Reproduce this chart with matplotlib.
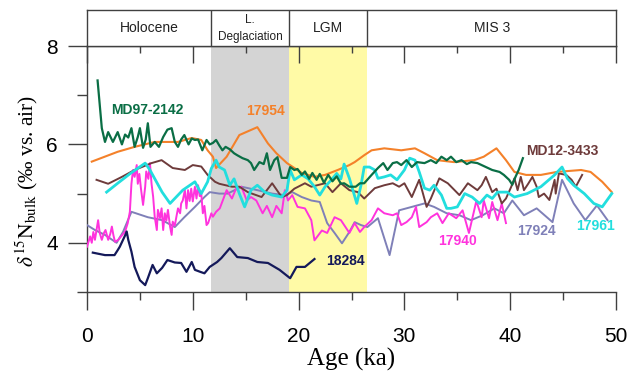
import matplotlib
matplotlib.use("Agg")
import matplotlib.pyplot as plt

# ---------------- data ----------------
md97_2142 = [(1.0,7.3),(1.4,6.33),(1.7,6.05),(2.0,6.25),(2.45,6.05),(2.9,6.25),(3.3,6.0),(3.6,6.2),(3.9,6.14),(4.2,6.33),
             (4.5,5.95),(4.8,6.15),(5.0,6.33),(5.3,5.93),(5.55,6.1),(5.75,6.43),(6.0,5.95),(6.4,6.05),(6.8,5.95),(7.2,6.15),
             (7.6,6.3),(8.0,6.33),(8.3,6.05),(8.6,5.95),(8.9,6.1),(9.2,6.19),(9.6,6.0),(9.9,6.12),(10.2,6.09),(10.5,6.1),
             (10.9,5.88),(11.3,6.09),(11.6,6.0),(11.9,6.03),(12.2,6.09),(12.5,5.98),(12.8,5.88),(13.1,5.95),(13.5,5.9),(13.9,5.82),
             (14.2,5.78),(14.7,5.72),(15.2,5.68),(15.5,5.62),(15.8,5.48),(16.3,5.64),(16.7,5.6),(17.0,5.82),(17.3,5.48),(17.7,5.68),
             (18.0,5.74),(18.4,5.32),(18.9,5.32),(19.2,5.54),(19.6,5.48),(19.9,5.5),(20.3,5.38),(20.6,5.45),(21.0,5.3),(21.3,5.42),
             (21.7,5.28),(22.0,5.4),(22.4,5.22),(22.8,5.38),(23.2,5.25),(23.6,5.35),(24.0,5.2),(24.3,5.21),(24.8,5.14),(25.4,5.14),
             (25.8,5.21),(26.2,5.21),(26.9,5.38),(27.5,5.52),(28.0,5.62),(28.4,5.48),(28.9,5.62),(29.3,5.64),(29.7,5.58),(30.2,5.68),
             (30.7,5.54),(31.2,5.64),(31.9,5.62),(32.5,5.68),(33.0,5.62),(33.5,5.75),(34.0,5.68),(34.4,5.75),(34.9,5.64),(35.4,5.68),
             (35.9,5.6),(36.3,5.64),(36.9,5.62),(37.3,5.58),(37.7,5.54),(38.3,5.48),(39.0,5.44),(39.4,5.38),(39.9,5.28),(40.2,5.18),
             (40.5,5.34),(40.8,5.48),(41.2,5.72)]

s17954 = [(0.45,5.65),(2.9,5.85),(4.5,5.95),(6.4,6.05),(8.6,6.05),(9.9,6.13),(10.8,6.09),(11.4,5.88),(11.9,5.75),(12.2,5.52),
          (13.2,5.75),(14.4,6.19),(16.1,6.35),(17.1,6.02),(17.9,5.82),(18.9,5.62),(20.3,5.42),(21.5,5.34),(22.5,5.38),(23.7,5.48),
          (24.8,5.58),(25.3,5.64),(26.2,5.78),(26.9,5.88),(28.1,5.92),(29.7,5.88),(31.0,5.92),(31.9,5.82),(33.1,5.68),(34.7,5.64),
          (36.6,5.68),(37.5,5.75),(38.7,5.92),(39.6,5.68),(40.4,5.44),(41.5,5.38),(42.9,5.38),(44.4,5.44),(46.7,5.48),(47.6,5.44),
          (48.7,5.24),(49.6,5.03)]

md12_3433 = [(0.9,5.28),(2.0,5.2),(3.3,5.34),(4.5,5.48),(6.1,5.62),(7.05,5.68),(8.1,5.52),(9.25,5.48),(10.0,5.58),(10.8,5.55),
             (11.4,5.38),(12.1,5.24),(12.5,5.2),(13.7,5.14),(14.4,5.14),(15.2,5.03),(16.5,4.93),(17.5,5.21),(18.4,4.93),(18.9,4.97),
             (19.6,5.1),(20.6,5.21),(21.2,5.14),(22.5,5.21),(23.2,5.03),(24.0,5.21),(24.8,5.07),(25.6,5.03),(26.2,4.9),(27.2,5.11),
             (28.1,5.17),(28.9,5.21),(29.5,5.14),(30.0,5.21),(30.7,4.93),(31.4,5.28),(32.1,4.73),(32.5,4.9),(33.3,5.31),(34.1,5.21),
             (35.2,4.97),(36.0,5.21),(36.9,5.07),(37.3,5.17),(37.7,5.34),(38.3,5.03),(38.7,5.1),(39.2,4.8),(39.6,4.9),(40.1,5.14),
             (40.4,5.31),(40.7,5.07),(41.0,5.34),(41.3,5.07),(41.7,5.2),(42.1,5.34),(42.5,5.14),(42.7,4.93),(43.2,5.0),(43.7,4.87),
             (44.2,5.28),(44.3,5.0),(44.6,5.41),(45.3,5.38),(45.8,5.28),(46.2,5.14),(46.8,5.38)]

s17961 = [(1.85,5.03),(2.9,5.21),(4.1,5.41),(5.5,5.62),(5.95,5.48),(7.1,5.03),(7.85,4.8),(9.05,5.07),(10.2,5.24),(10.8,5.0),
          (11.4,5.24),(11.75,5.51),(12.2,5.68),(12.5,5.54),(13.0,5.48),(13.5,5.17),(13.9,5.3),(14.4,5.0),(14.9,4.73),(15.5,5.07),
          (16.1,5.17),(16.8,5.03),(17.5,4.97),(18.4,4.93),(18.9,5.07),(19.2,5.48),(19.6,5.28),(20.3,5.38),(20.9,5.3),(21.5,5.14),
          (22.0,4.97),(22.5,5.14),(23.1,5.28),(23.6,5.41),(24.0,5.3),(24.3,5.6),(24.8,5.31),(25.5,4.8),(25.9,5.17),(26.2,5.54),
          (26.7,5.54),(27.2,5.48),(27.5,5.31),(28.1,5.34),(28.7,5.38),(29.3,5.28),(30.0,5.48),(30.5,5.72),(31.0,5.68),(31.4,5.44),
          (31.9,5.11),(32.4,5.07),(32.8,5.17),(33.5,4.97),(34.0,4.7),(34.4,4.7),(35.0,4.73),(35.7,5.0),(36.4,4.93),(37.1,4.8),
          (37.8,4.97),(38.3,4.9),(38.8,5.03),(39.7,5.03),(40.4,4.93),(41.6,5.0),(42.9,5.14),(44.2,5.38),(44.9,5.54),(45.4,5.31),
          (46.0,5.17),(47.0,5.0),(47.9,4.8),(48.7,4.73),(49.6,5.0)]

s17940 = [(0.0,3.92),(0.3,4.13),(0.45,4.0),(0.6,4.22),(0.75,4.06),(1.05,4.46),(1.2,4.2),(1.4,4.06),(1.6,4.2),(1.75,4.26),
          (2.0,4.06),(2.2,4.18),(2.35,4.33),(2.5,4.15),(2.65,4.02),(2.95,4.06),(3.3,4.15),(3.6,4.23),(3.85,4.4),(4.05,4.63),
          (4.2,5.2),(4.35,5.48),(4.5,5.34),(4.7,5.58),(4.8,5.2),(4.95,5.4),(5.1,5.1),(5.3,4.77),(5.5,5.14),(5.6,5.45),
          (5.8,5.3),(5.95,5.62),(6.1,5.2),(6.25,4.94),(6.4,4.53),(6.6,4.26),(6.7,4.67),(6.9,4.5),(7.05,4.7),(7.2,4.26),
          (7.35,4.6),(7.5,4.45),(7.65,4.67),(7.85,4.33),(8.0,4.16),(8.1,4.43),(8.3,4.35),(8.45,4.53),(8.6,4.7),(8.8,4.6),
          (8.9,4.8),(9.05,4.86),(9.25,5.07),(9.4,4.7),(9.55,5.07),(9.7,4.85),(9.85,5.1),(10.0,4.84),(10.2,5.14),(10.35,4.9),
          (10.5,5.17),(10.65,4.95),(10.8,5.0),(10.95,4.6),(11.1,4.75),(11.3,4.36),(11.45,4.4),(11.6,4.5),(11.75,4.6),(11.9,4.53),
          (12.2,4.63),(12.55,4.7),(13.2,5.07),(13.7,4.9),(14.1,5.11),(14.6,5.14),(15.1,4.86),(15.5,4.93),(16.0,4.86),(16.6,4.6),
          (17.0,4.75),(17.5,4.52),(17.9,4.75),(18.4,4.6),(18.7,5.07),(19.0,4.86),(19.4,4.97),(19.9,4.73),(20.6,4.7),(21.2,4.46),
          (21.5,4.05),(22.2,4.25),(22.7,4.2),(23.4,4.52),(24.0,4.46),(24.8,4.2),(25.3,4.4),(25.8,4.22),(26.2,4.32),(26.9,4.46),
          (27.5,4.7),(28.1,4.6),(28.9,4.56),(29.3,4.6),(29.7,4.36),(30.2,4.42),(30.7,4.52),(31.1,4.73),(31.4,4.32),(32.1,4.42),
          (32.5,4.52),(33.1,4.6),(33.6,4.4),(34.2,4.6),(34.9,4.5),(35.5,4.66),(36.1,4.2),(36.8,4.85),(37.3,4.52),(37.5,4.86),
          (38.0,4.5),(38.3,4.83),(38.8,4.46),(39.2,4.8),(39.6,4.4)]

s17924 = [(0.0,4.36),(0.75,4.26),(1.7,4.16),(2.8,4.0),(3.4,4.22),(4.2,4.63),(5.75,4.52),(7.1,4.46),(8.3,4.32),(9.2,4.52),
          (10.2,4.73),(11.1,4.93),(11.6,5.03),(12.5,5.0),(13.3,5.0),(14.6,5.14),(16.1,5.07),(17.5,5.0),(18.7,4.97),(19.4,5.03),
          (20.3,4.93),(21.2,4.86),(22.0,4.83),(22.7,4.4),(23.4,4.2),(24.1,3.99),(24.8,4.22),(25.3,4.42),(25.9,4.36),(26.5,4.32),
          (27.5,4.5),(28.6,3.75),(29.5,4.66),(30.7,4.73),(31.9,4.8),(32.8,4.73),(34.0,4.6),(35.2,4.56),(36.3,4.46),(37.4,4.56),
          (38.5,4.7),(39.4,4.6),(40.2,4.86),(41.3,4.56),(42.5,4.7),(44.0,4.42),(44.9,5.28),(46.0,4.8),(47.1,4.46),(48.2,4.76),
          (49.2,4.46)]

s18284 = [(0.55,3.8),(1.7,3.75),(2.6,3.75),(2.9,3.85),(3.1,3.92),(3.6,4.15),(3.75,4.23),(3.9,4.06),(4.2,3.82),(4.5,3.51),
          (5.0,3.24),(5.5,3.14),(5.75,3.28),(6.2,3.55),(6.6,3.38),(7.1,3.49),(7.6,3.65),(8.3,3.6),(8.9,3.59),(9.4,3.41),
          (9.9,3.61),(10.2,3.45),(10.7,3.41),(11.1,3.38),(11.6,3.51),(12.3,3.61),(12.7,3.69),(13.5,3.89),(14.2,3.71),(15.2,3.69),
          (16.1,3.61),(17.1,3.59),(18.2,3.45),(19.2,3.28),(19.8,3.51),(20.6,3.51),(21.5,3.67)]

periods = ["Holocene", "L.\nDeglaciation", "LGM", "MIS 3"]
period_bounds = [0, 11.7, 19.1, 26.5, 50]

x_ticks = [0, 10, 20, 30, 40, 50]
y_ticks = [4, 6, 8]

# ---------------- plotting ----------------
plt.rcParams["mathtext.fontset"] = "stix"
W, H = 629, 379
fig = plt.figure(figsize=(W/100, H/100), dpi=100)

L, R = 87/W, 616/W
B, T = 1 - 292/H, 1 - 46/H
ax = fig.add_axes([L, B, R - L, T - B])
hax = fig.add_axes([L, T, R - L, (46 - 10)/H])

edge = "#404040"
ax.set_xlim(0, 50)
ax.set_ylim(3, 8)

ax.axvspan(period_bounds[1], period_bounds[2], color="#d4d4d4", lw=0, zorder=0)
ax.axvspan(period_bounds[2], period_bounds[3], color="#fffaa6", lw=0, zorder=0)

series = [
    (s17924, "#7f80b8", 1.4),
    (s17940, "#ff33dd", 1.4),
    (md12_3433, "#6e3b3b", 1.4),
    (s17954, "#f4812a", 1.5),
    (s17961, "#22dede", 2.0),
    (md97_2142, "#0a6e45", 1.6),
    (s18284, "#14195a", 1.6),
]
for data, col, lw in series:
    xs = [p[0] for p in data]
    ys = [p[1] for p in data]
    ax.plot(xs, ys, color=col, lw=lw, zorder=3)

lab_kw = dict(fontsize=10, fontweight="bold", family="Liberation Sans", ha="center", va="center", zorder=5)
ax.text(5.65, 6.7, "MD97-2142", color="#0a6e45", **lab_kw)
ax.text(16.9, 6.68, "17954", color="#f4812a", **lab_kw)
ax.text(44.9, 5.87, "MD12-3433", color="#6e3b3b", **lab_kw)
ax.text(24.4, 3.63, "18284", color="#14195a", **lab_kw)
ax.text(35.0, 4.04, "17940", color="#ff33dd", **lab_kw)
ax.text(42.5, 4.24, "17924", color="#7f80b8", **lab_kw)
ax.text(48.1, 4.34, "17961", color="#22dede", **lab_kw)

ax.spines["right"].set_visible(False)
for s in ["left", "bottom", "top"]:
    ax.spines[s].set_color(edge)
    ax.spines[s].set_linewidth(1.0)

ax.set_xticks(x_ticks)
ax.set_xticks([5, 15, 25, 35, 45], minor=True)
ax.set_yticks(y_ticks)
ax.set_yticks([3, 5, 7], minor=True)
ax.tick_params(axis="x", which="major", direction="out", length=13, width=1, color=edge, pad=12, labelsize=15)
ax.tick_params(axis="x", which="minor", direction="out", length=6, width=1, color=edge)
ax.tick_params(axis="y", which="major", direction="out", length=14, width=1, color=edge, pad=7, labelsize=15)
ax.tick_params(axis="y", which="minor", direction="out", length=7, width=1, color=edge)
for lbl in ax.get_xticklabels() + ax.get_yticklabels():
    lbl.set_family("Liberation Sans")

ax.set_xlabel("Age (ka)", family="Liberation Serif", fontsize=18)
ax.xaxis.set_label_coords(0.5, -0.228)
ax.set_ylabel(r"$\delta^{15}\mathrm{N}_{\mathrm{bulk}}$ (‰ vs. air)", family="Liberation Serif", fontsize=15.5)
ax.yaxis.set_label_coords(-0.088, 0.45)

# header
hax.set_xlim(0, 50)
hax.set_ylim(0, 1)
for s in hax.spines.values():
    s.set_color(edge)
    s.set_linewidth(1.0)
for b in period_bounds[1:-1]:
    hax.axvline(b, color=edge, lw=1.0)
hax.set_yticks([])
hax.set_xticks(x_ticks)
hax.set_xticks([5, 15, 25, 35, 45], minor=True)
hax.tick_params(axis="x", which="major", direction="out", length=12, width=1, color=edge, labelbottom=False)
hax.tick_params(axis="x", which="minor", direction="out", length=5, width=1, color=edge)
centers = [(period_bounds[i] + period_bounds[i+1]) / 2 for i in range(4)]
for c, name in zip(centers, periods):
    if "\n" in name:
        a, b2 = name.split("\n")
        hax.text(c, 0.72, a, ha="center", va="center", fontsize=8.5, family="Liberation Sans", color="#222222")
        hax.text(c, 0.25, b2, ha="center", va="center", fontsize=8.5, family="Liberation Sans", color="#222222")
    else:
        hax.text(c, 0.5, name, ha="center", va="center", fontsize=10, family="Liberation Sans", color="#222222")

fig.savefig("out.png", dpi=100)
